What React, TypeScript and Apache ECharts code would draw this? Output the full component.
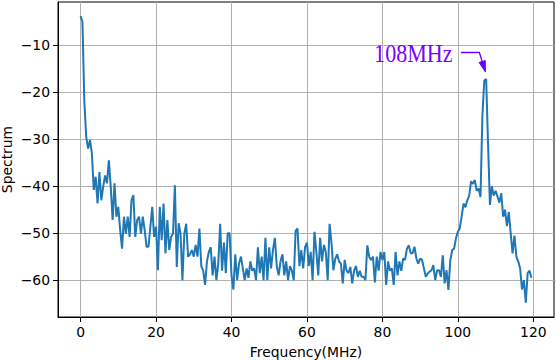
import React, { useEffect, useRef } from "react";
import * as echarts from "echarts";

const FREQ_STEP = 0.5;
const spectrum: number[] = [
  -3.8, -5.0, -22, -29.5, -32, -30.2, -33, -40.8, -38, -43.7,
  -37, -43, -40.1, -37.7, -39.4, -34.5, -40.1, -47.2, -39.4, -46.5,
  -44.4, -49.4, -53.3, -46.5, -50.1, -46.5, -50.8, -43, -41.9, -50.8,
  -47.2, -46.5, -50.1, -46.5, -49.4, -52.9, -52.9, -48.6, -44.4, -50.8,
  -48.6, -57.9, -44.4, -51.5, -43.7, -54.3, -47.2, -53.6, -50.8, -50.1,
  -39.8, -57.2, -47.9, -50.1, -60, -50.1, -48, -55, -54.5, -53.6,
  -55, -52.5, -55, -49, -57, -58, -61, -56, -54, -53,
  -59, -55, -60, -56.5, -48, -58, -52, -58.5, -50, -50,
  -59, -62, -54.5, -60, -56.5, -55, -57.5, -60, -57.5, -59.5,
  -56, -58, -57.5, -60, -53, -58.5, -55, -60, -51, -60,
  -53, -57.5, -53.5, -51, -57, -59, -56, -54.5, -59, -56,
  -60, -57, -58, -60, -49.5, -49, -57, -53.6, -57.5, -53,
  -52, -57, -54, -60, -49.7, -54, -59, -51, -56, -52.5,
  -54, -60, -48, -52, -57.9, -55.5, -54.5, -56, -56.5, -60.7,
  -55.7, -58, -58.5, -57.2, -60.7, -58, -57, -59.3, -58, -59.3,
  -59.3, -60, -52.6, -55, -55.7, -55, -60.5, -55, -58, -54,
  -55.7, -54, -61, -56, -58, -57.5, -61, -54, -59, -56,
  -58, -55.4, -55.7, -53.3, -52.6, -54.3, -54.3, -52.9, -55.4, -56.5,
  -55.4, -55.7, -57.5, -59.3, -58.6, -58.2, -57.9, -56.8, -60, -57.9,
  -57.9, -59.3, -54.7, -60.7, -57.9, -62.1, -55.7, -53.6, -53.3, -51.1,
  -49.7, -49, -46.5, -43.7, -44.5, -43, -42, -39, -39.5, -38.7,
  -41, -40.5, -42.3, -25, -17.5, -17.2, -31, -44, -40, -42,
  -41, -42.2, -43.5, -41.5, -46.5, -45, -48.5, -45.5, -50, -54.3,
  -50.5, -55, -56, -57.5, -62, -60, -64.8, -58.5, -58, -59.5,
];

const xTicks = [0, 20, 40, 60, 80, 100, 120];
const yTicks = [-60, -50, -40, -30, -20, -10];
const xRange = [-5.98, 125.48];
const yRange = [-67.85, -0.8];

const xName = "Frequency(MHz)";
const yName = "Spectrum";

// annotation (data coordinates)
const annotationText = "108MHz";
const annotationTextAt = [88.2, -11.7];
const arrowStart = [100.8, -11.55];
const arrowElbow = [105.7, -11.55];
const arrowTip = [107.3, -15.7];

const FONT = "DejaVu Sans";
const minus = (v: number) => (v < 0 ? "\u2212" + Math.abs(v) : String(v));

export default function App() {
  const ref = useRef<HTMLDivElement>(null);
  useEffect(() => {
    if (!ref.current) return;
    const chart = echarts.init(ref.current, undefined, { renderer: "svg" });
    const data = spectrum.map((v, i) => [i * FREQ_STEP, v]);
    chart.setOption({
      animation: false,
      backgroundColor: "#ffffff",
      grid: {
        left: 58,
        right: 2,
        top: 2,
        bottom: 43,
        containLabel: false,
        outerBoundsMode: "none",
        show: true,
        borderColor: "#000",
        borderWidth: 1,
        backgroundColor: "transparent",
      },
      xAxis: {
        type: "value",
        min: xRange[0],
        max: xRange[1],
        name: xName,
        nameLocation: "middle",
        nameGap: 28,
        nameMoveOverlap: false,
        nameTextStyle: { fontFamily: FONT, fontSize: 13.9, color: "#000" },
        axisLine: { show: true, onZero: false, lineStyle: { color: "#000", width: 1 } },
        axisTick: {
          show: true,
          length: 5,
          lineStyle: { color: "#000", width: 1 },
          customValues: xTicks,
        },
        axisLabel: {
          customValues: xTicks,
          margin: 8,
          fontFamily: FONT,
          fontSize: 13.9,
          color: "#000",
          formatter: (v: number) => minus(v),
        },
        splitLine: { show: true, lineStyle: { color: "#b0b0b0", width: 1 } },
      },
      yAxis: {
        type: "value",
        min: yRange[0],
        max: yRange[1],
        name: yName,
        nameLocation: "middle",
        nameGap: 44,
        nameMoveOverlap: false,
        nameTextStyle: { fontFamily: FONT, fontSize: 13.9, color: "#000" },
        axisLine: { show: true, onZero: false, lineStyle: { color: "#000", width: 1 } },
        axisTick: {
          show: true,
          length: 5,
          lineStyle: { color: "#000", width: 1 },
          customValues: yTicks,
        },
        axisLabel: {
          customValues: yTicks,
          margin: 8,
          fontFamily: FONT,
          fontSize: 13.9,
          color: "#000",
          formatter: (v: number) => minus(v),
        },
        splitLine: { show: true, lineStyle: { color: "#b0b0b0", width: 1 } },
      },
      series: [
        {
          type: "line",
          data,
          showSymbol: false,
          symbol: "none",
          clip: true,
          lineStyle: { color: "#1f77b4", width: 2 },
          itemStyle: { color: "#1f77b4" },
          z: 3,
        },
      ],
    });

    const px = (p: number[]) => chart.convertToPixel({ gridIndex: 0 }, p) as number[];
    const t = px(annotationTextAt);
    const s = px(arrowStart);
    const e = px(arrowElbow);
    const tip = px(arrowTip);
    const dx = tip[0] - e[0];
    const dy = tip[1] - e[1];
    const len = Math.hypot(dx, dy) || 1;
    const ux = dx / len;
    const uy = dy / len;
    const headLen = 11;
    const headHalf = 3.2;
    const base = [tip[0] - ux * headLen, tip[1] - uy * headLen];
    const arrowColor = "#6a00ff";

    chart.setOption({
      graphic: [
        {
          type: "text",
          x: t[0],
          y: t[1],
          scaleX: 0.85,
          z: 10,
          style: {
            text: annotationText,
            fontFamily: "Liberation Serif",
            fontSize: 26,
            fill: "#8000ff",
            textAlign: "center",
            textVerticalAlign: "middle",
          },
        },
        {
          type: "polyline",
          z: 10,
          shape: { points: [s, e, base] },
          style: { stroke: arrowColor, lineWidth: 1.3, fill: "none" },
        },
        {
          type: "polygon",
          z: 10,
          shape: {
            points: [
              tip,
              [base[0] - uy * headHalf, base[1] + ux * headHalf],
              [base[0] + uy * headHalf, base[1] - ux * headHalf],
            ],
          },
          style: { fill: arrowColor, stroke: arrowColor, lineWidth: 1 },
        },
      ],
    });

    return () => chart.dispose();
  }, []);

  return <div ref={ref} style={{ width: 556, height: 360, position: "absolute", left: 0, top: 0 }} />;
}
